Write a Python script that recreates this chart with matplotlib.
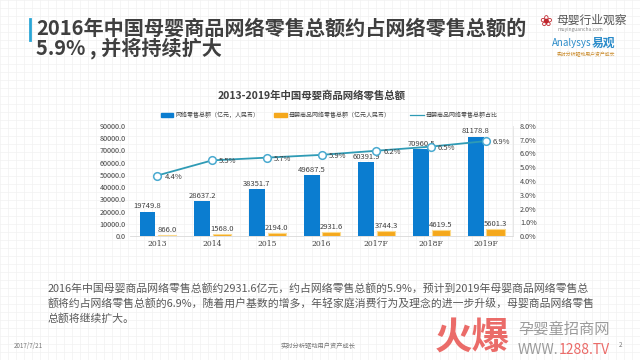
import matplotlib
matplotlib.use("Agg")
import matplotlib.pyplot as plt
import numpy as np
from matplotlib.lines import Line2D
from matplotlib.patches import Rectangle

plt.rcParams['font.family'] = ['Noto Sans CJK SC', 'DejaVu Sans']

categories = ["2013", "2014", "2015", "2016", "2017F", "2018F", "2019F"]
online_total = [19749.8, 28637.2, 38351.7, 49687.5, 60391.9, 70960.5, 81178.8]
baby_total = [866.0, 1568.0, 2194.0, 2931.6, 3744.3, 4619.5, 5601.3]
share_pct = [4.4, 5.5, 5.7, 5.9, 6.2, 6.5, 6.9]
left_ticks = [0, 10000, 20000, 30000, 40000, 50000, 60000, 70000, 80000, 90000]
right_ticks = [0, 1, 2, 3, 4, 5, 6, 7, 8]
legend_labels = ["网络零售总额（亿元，人民币）", "母婴商品网络零售总额（亿元人民币）", "母婴商品网络零售总额占比"]

BLUE = "#0b7dd0"
ORANGE = "#f5a81c"
TEAL = "#2f9bb5"

W, H = 640, 360
fig = plt.figure(figsize=(6.4, 3.6), dpi=100)
fig.patch.set_facecolor("white")

# faint slide grid background
bg = fig.add_axes([0, 0, 1, 1], zorder=-10)
bg.set_xlim(0, W); bg.set_ylim(H, 0)
for gx in np.arange(0, W, 8):
    bg.axvline(gx, color="#f1f1f1", lw=0.5)
for gy in np.arange(0, H, 8):
    bg.axhline(gy, color="#f1f1f1", lw=0.5)
bg.axis("off")

def fx(x): return x / W
def fy(y): return 1 - y / H

# title
fig.add_artist(Line2D([fx(30), fx(30)], [fy(19), fy(40)], color="#2aa6d6", lw=2))
fig.text(fx(36), fy(28), "2016年中国母婴商品网络零售总额约占网络零售总额的",
         fontsize=14.5, fontweight="bold", color="#3f3f3f", va="center", ha="left")
fig.text(fx(36), fy(48), "5.9% , 并将持续扩大",
         fontsize=14.5, fontweight="bold", color="#3f3f3f", va="center", ha="left")

# logos
fig.text(fx(546), fy(22), "❀", fontsize=11, color="#c0262d", ha="center", va="center",
         family=['DejaVu Sans'])
fig.text(fx(556), fy(20), "母婴行业观察", fontsize=8.5, color="#555555", va="center", ha="left")
fig.text(fx(557), fy(30), "muyinguancha.com", fontsize=3.5, color="#888888", va="center", ha="left")
fig.text(fx(552), fy(43), "Analysys", fontsize=7, color="#2a8bc9", va="center", ha="left",
         style="italic")
fig.text(fx(592), fy(43), "易观", fontsize=8.5, color="#2a8bc9", va="center", ha="left",
         fontweight="bold")
fig.text(fx(557), fy(55), "实时分析驱动用户资产成长", fontsize=3.5, color="#c98a2a",
         va="center", ha="left")

# chart title
fig.text(fx(312), fy(95), "2013-2019年中国母婴商品网络零售总额", fontsize=7.5,
         fontweight="bold", color="#404040", ha="center", va="center")

# main axes
ax = fig.add_axes([fx(130), fy(236), (513 - 130) / W, (236 - 126) / H])
ax.set_facecolor("none")
x = np.arange(len(categories))
bw_blue, bw_or = 0.29, 0.33
off = 0.18
ax.bar(x - off, online_total, width=bw_blue, color=BLUE, zorder=3)
ax.bar(x + off, baby_total, width=bw_or, color=ORANGE, zorder=3,
       edgecolor="#fbd98a", linewidth=0.8)
ax.set_ylim(0, 90000)
ax.set_xlim(-0.5, 6.5)
ax.set_yticks(left_ticks)
ax.set_yticklabels([f"{v:.1f}" for v in left_ticks], fontsize=5.2, color="#404040")
ax.set_xticks(x)
ax.set_xticklabels(categories, fontsize=5.5, color="#404040", family=['DejaVu Serif'])
ax.tick_params(length=0, pad=3)
for s in ["top", "left", "right"]:
    ax.spines[s].set_visible(False)
ax.spines["bottom"].set_color("#d9d9d9")
ax.spines["bottom"].set_linewidth(0.6)

for xi, v in zip(x, online_total):
    ax.text(xi - off, v + 1200, f"{v:.1f}", fontsize=5.5, color="#404040",
            ha="center", va="bottom", zorder=5)
for xi, v in zip(x, baby_total):
    ax.text(xi + off, v + 800, f"{v:.1f}", fontsize=5.5, color="#404040",
            ha="center", va="bottom", zorder=5)

ax2 = ax.twinx()
ax2.set_ylim(0, 8)
ax2.set_yticks(right_ticks)
ax2.set_yticklabels([f"{v:.1f}%" for v in right_ticks], fontsize=5.2, color="#404040")
ax2.tick_params(length=0, pad=5)
for s in ["top", "left", "bottom"]:
    ax2.spines[s].set_visible(False)
ax2.spines["right"].set_color("#e3e3e3")
ax2.spines["right"].set_linewidth(0.6)
ax2.plot(x, share_pct, color=TEAL, lw=1.3, marker="o", markersize=5.5,
         markerfacecolor="white", markeredgecolor="#4aaad0", markeredgewidth=1.1, zorder=6)
for xi, v in zip(x, share_pct):
    ax2.text(xi + 0.13, v - 0.08, f"{v:.1f}%", fontsize=5.5, color="#404040",
             ha="left", va="center", zorder=7)

# legend (manual placement)
ly = 115
fig.add_artist(Rectangle((fx(161), fy(ly + 1.8)), 12 / W, 3.6 / H, color=BLUE,
                         transform=fig.transFigure))
fig.text(fx(175), fy(ly), legend_labels[0], fontsize=4.3, color="#404040", va="center", ha="left")
fig.add_artist(Rectangle((fx(274), fy(ly + 1.8)), 13 / W, 3.6 / H, color=ORANGE,
                         transform=fig.transFigure))
fig.text(fx(289), fy(ly), legend_labels[1], fontsize=4.3, color="#404040", va="center", ha="left")
fig.add_artist(Line2D([fx(410), fx(424)], [fy(ly), fy(ly)], color=TEAL, lw=0.9))
fig.text(fx(426), fy(ly), legend_labels[2], fontsize=4.3, color="#404040", va="center", ha="left")

# paragraph
para = ["2016年中国母婴商品网络零售总额约2931.6亿元，约占网络零售总额的5.9%，预计到2019年母婴商品网络零售总",
        "额将约占网络零售总额的6.9%，随着用户基数的增多，年轻家庭消费行为及理念的进一步升级，母婴商品网络零售",
        "总额将继续扩大。"]
for i, line in enumerate(para):
    fig.text(fx(48), fy(288 + i * 15.5), line, fontsize=7.8, color="#595959",
             ha="left", va="center")

# footer
fig.text(fx(14), fy(346), "2017/7/21", fontsize=4.5, color="#777777", ha="left", va="center")
fig.text(fx(318), fy(346), "实时分析驱动用户资产成长", fontsize=4.5, color="#777777",
         ha="center", va="center")
fig.text(fx(621), fy(345), "2", fontsize=4.5, color="#777777", ha="center", va="center")

# watermark
fig.text(fx(472), fy(337), "火爆", fontsize=27, fontweight="bold", color="#e8524f",
         ha="center", va="center", alpha=0.85)
fig.text(fx(518), fy(329), "孕婴童招商网", fontsize=11, color="#8a8a8a", ha="left",
         va="center", alpha=0.85)
fig.text(fx(518), fy(350), "WWW.", fontsize=10, color="#8a8a8a", ha="left", va="center",
         alpha=0.85)
fig.text(fx(559), fy(350), "1288.TV", fontsize=10, color="#e8524f", ha="left", va="center",
         alpha=0.85)

fig.savefig("out.png", dpi=100, facecolor="white")
